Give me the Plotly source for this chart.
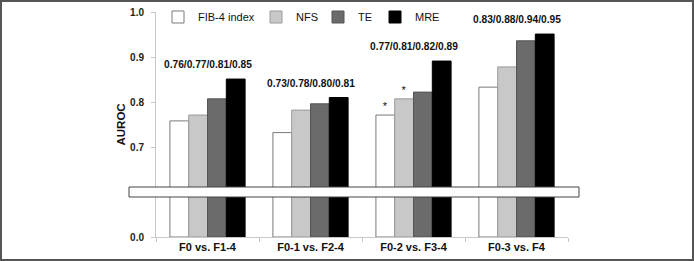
import plotly.graph_objects as go
from plotly.subplots import make_subplots

categories = ["F0 vs. F1-4", "F0-1 vs. F2-4", "F0-2 vs. F3-4", "F0-3 vs. F4"]
fib4 = [0.758, 0.732, 0.771, 0.833]
nfs = [0.771, 0.782, 0.807, 0.878]
te = [0.807, 0.796, 0.822, 0.936]
mre = [0.851, 0.810, 0.891, 0.951]
series_names = ["FIB-4 index", "NFS", "TE", "MRE"]
group_labels = ["0.76/0.77/0.81/0.85", "0.73/0.78/0.80/0.81",
                "0.77/0.81/0.82/0.89", "0.83/0.88/0.94/0.95"]
fib4_marks = ["", "", "*", ""]
nfs_marks = ["", "", "*", ""]

W, H = 694, 261
ML, MR, MT, MB = 156, 126, 12, 24
PW, PH = W - ML - MR, H - MT - MB

def px_x(p):
    return (p - ML) / PW

def px_y(p):
    return (MT + PH - p) / PH

fig = make_subplots(rows=2, cols=1, shared_xaxes=True, vertical_spacing=0,
                    row_heights=[0.8, 0.2])

fills = ["#ffffff", "#c8c8c8", "#6b6b6b", "#000000"]
lines = ["#7a7a7a", "#9a9a9a", "#555555", "#000000"]
data = [fib4, nfs, te, mre]
marks = [fib4_marks, nfs_marks, None, None]
legend_ids = ["legend", "legend2", "legend3", "legend4"]
legend_text_x = [199, 297, 359, 416]
font_family = "Liberation Sans, Arial, sans-serif"

for i, (name, vals) in enumerate(zip(series_names, data)):
    for row in (1, 2):
        kw = {}
        if row == 1 and marks[i] is not None:
            kw = dict(text=marks[i], textposition="outside",
                      textfont=dict(size=11, color="#111", family=font_family),
                      cliponaxis=False)
        fig.add_trace(go.Bar(x=categories, y=vals, name=name,
                             marker=dict(color=fills[i], line=dict(color=lines[i], width=1)),
                             showlegend=(row == 1), legendgroup=name,
                             legend=legend_ids[i], hoverinfo="skip", **kw),
                      row=row, col=1)

legend_layout = {}
for lid, tx in zip(legend_ids, legend_text_x):
    legend_layout[lid] = dict(orientation="h", x=px_x(tx - 41), y=px_y(17),
                              xanchor="left", yanchor="middle",
                              font=dict(size=11, color="#111"), bgcolor="rgba(0,0,0,0)",
                              itemwidth=30)

fig.update_layout(
    width=W, height=H, margin=dict(l=ML, r=MR, t=MT, b=MB, autoexpand=False),
    paper_bgcolor="white", plot_bgcolor="white",
    barmode="group", bargap=0.27, bargroupgap=0,
    font=dict(family=font_family, color="#111"),
    **legend_layout,
)

yaxis_common = dict(tickformat=".1f", showgrid=False, showline=True, linecolor="#c8c8c8",
                    ticks="outside", ticklen=4, tickcolor="#c8c8c8", ticklabelstandoff=5,
                    tickfont=dict(size=10, weight="bold", color="#222"), zeroline=False)
fig.update_yaxes(row=1, col=1, range=[0.6, 1.0], tickvals=[0.7, 0.8, 0.9, 1.0], **yaxis_common)
fig.update_yaxes(row=2, col=1, range=[0, 0.1], tickvals=[0.0], **yaxis_common)
fig.update_xaxes(row=1, col=1, showline=False, showticklabels=False, ticks="")
fig.update_xaxes(row=2, col=1, showline=True, linecolor="#c8c8c8", ticks="outside",
                 tickson="boundaries", ticklen=4, tickcolor="#c8c8c8",
                 tickfont=dict(size=11, weight="bold", color="#111"))

# group labels above bars
for cat, lab, a, b, c, d in zip(categories, group_labels, fib4, nfs, te, mre):
    fig.add_annotation(x=cat, y=max(a, b, c, d), xref="x", yref="y", text="<b>" + lab + "</b>",
                       showarrow=False, yanchor="bottom", yshift=7,
                       font=dict(size=10.2, color="#111"))

# y title
fig.add_annotation(x=px_x(120), y=0.5, xref="paper", yref="paper", text="<b>AUROC</b>",
                   xanchor="center", yanchor="middle",
                   textangle=-90, showarrow=False, font=dict(size=11.5, color="#111"))

# axis break box
fig.add_shape(type="rect", xref="paper", yref="paper",
              x0=px_x(129), x1=px_x(579), y0=px_y(197), y1=px_y(187),
              fillcolor="white", line=dict(color="#444", width=1), layer="above")
# outer frame
fig.add_shape(type="rect", xref="paper", yref="paper",
              x0=px_x(1), x1=px_x(W - 1), y0=px_y(H - 1), y1=px_y(1),
              fillcolor="rgba(0,0,0,0)", line=dict(color="#555", width=2), layer="above")

fig.write_html("out.html", config={"displayModeBar": False},
               post_script="document.body.style.margin='0';document.body.style.overflow='hidden';")
